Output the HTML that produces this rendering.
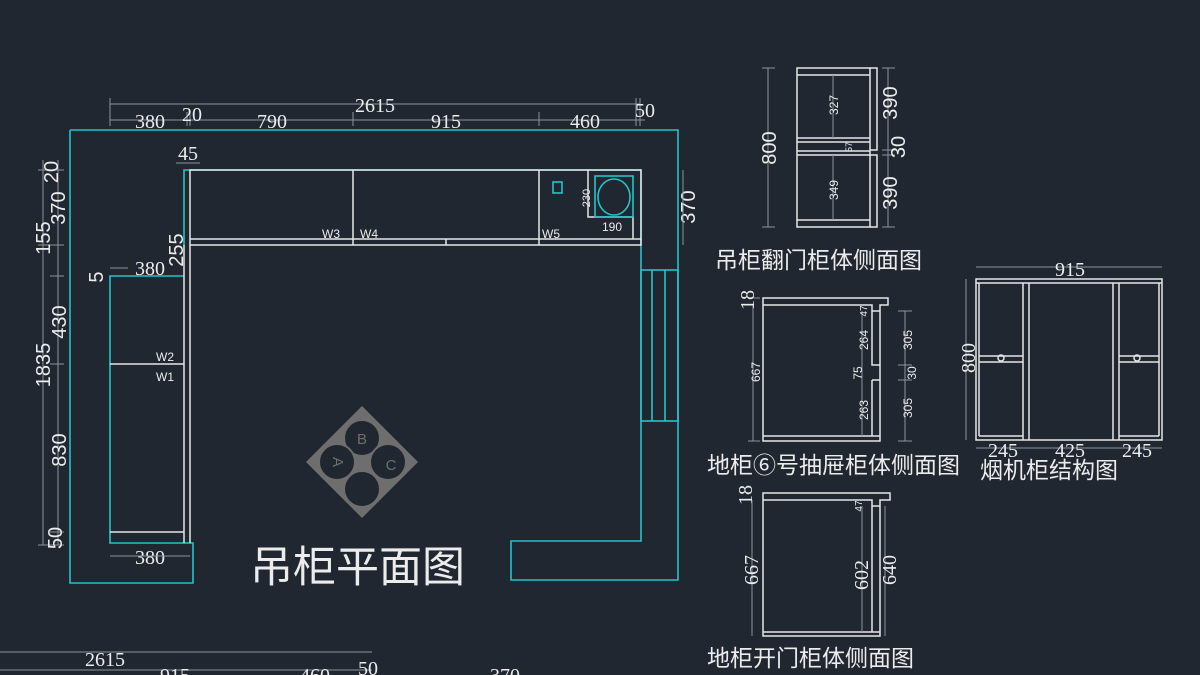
<!DOCTYPE html>
<html><head><meta charset="utf-8"><style>
html,body{margin:0;padding:0;background:#212730;}
svg{display:block}
text{font-family:"Liberation Sans","Noto Sans CJK SC",sans-serif;fill:#ececec}
.d{stroke:#8d939b;stroke-width:1;fill:none}
.w{stroke:#e6e6e6;stroke-width:1.5;fill:none}
.c{stroke:#22c4c8;stroke-width:1.6;fill:none}
.t{font-family:"Liberation Serif","Noto Serif CJK SC",serif;font-size:20px}
.s{font-size:12px}
.z{font-family:"Noto Sans CJK SC",sans-serif;font-size:23px}
</style></head><body>
<svg width="1200" height="675" viewBox="0 0 1200 675" xmlns="http://www.w3.org/2000/svg">
<rect width="1200" height="675" fill="#212730"/>
<path class="c" d="M70 130 H678 V580 H511 V541 H641 V170 H184 V245"/>
<path class="c" d="M70 130 V583 H193 V543 H110 V276 H184"/>
<rect class="w" x="190" y="170" width="451" height="75"/>
<line class="w" x1="190" y1="239" x2="641" y2="239"/>
<line class="w" x1="353" y1="170" x2="353" y2="245"/>
<line class="w" x1="539" y1="170" x2="539" y2="245"/>
<line class="w" x1="446" y1="239" x2="446" y2="245"/>
<path class="w" d="M588 170 V217 H633 V239"/>
<rect class="c" x="553" y="182" width="9" height="11"/>
<rect class="c" x="595" y="176" width="38" height="41"/>
<ellipse class="c" cx="614" cy="197" rx="16" ry="18"/>
<text x="322" y="238" class="s">W3</text><text x="360" y="238" class="s">W4</text><text x="542" y="238" class="s">W5</text>
<text x="590" y="198" style="font-size:11px" transform="rotate(-90 590 198)" text-anchor="middle">230</text>
<text x="612" y="231" style="font-size:12px" text-anchor="middle">190</text>
<line class="w" x1="184" y1="245" x2="184" y2="543"/>
<line class="w" x1="190" y1="245" x2="190" y2="543"/>
<line class="w" x1="110" y1="364" x2="184" y2="364"/>
<line class="w" x1="110" y1="532" x2="184" y2="532"/>
<text x="156" y="361" class="s">W2</text><text x="156" y="381" class="s">W1</text>
<rect class="c" x="641" y="270" width="37" height="151"/>
<line class="c" x1="652" y1="270" x2="652" y2="421"/>
<line class="c" x1="665" y1="270" x2="665" y2="421"/>
<line class="d" x1="110" y1="104" x2="640" y2="104"/>
<line class="d" x1="110" y1="120" x2="645" y2="120"/>
<path class="d" d="M110 98V126M187 112V126M190 112V126M353 112V126M539 112V126M636 98V126M640 98V126"/>
<text x="375" y="112" class="t" text-anchor="middle">2615</text>
<text x="150" y="128" class="t" text-anchor="middle">380</text>
<text x="192" y="121" class="t" text-anchor="middle">20</text>
<text x="272" y="128" class="t" text-anchor="middle">790</text>
<text x="446" y="128" class="t" text-anchor="middle">915</text>
<text x="585" y="128" class="t" text-anchor="middle">460</text>
<text x="645" y="117" class="t" text-anchor="middle">50</text>
<text x="188" y="160" class="t" text-anchor="middle">45</text>
<line class="d" x1="176" y1="163" x2="200" y2="163"/>
<line class="d" x1="43" y1="160" x2="43" y2="545"/>
<line class="d" x1="58" y1="160" x2="58" y2="545"/>
<path class="d" d="M38 170H64M38 245H64M50 276H64M50 364H64M50 532H64M38 545H64"/>
<g class="t">
<text transform="translate(58,172) rotate(-90)" text-anchor="middle">20</text>
<text transform="translate(65,208) rotate(-90)" text-anchor="middle">370</text>
<text transform="translate(50,238) rotate(-90)" text-anchor="middle">155</text>
<text transform="translate(66,322) rotate(-90)" text-anchor="middle">430</text>
<text transform="translate(50,365) rotate(-90)" text-anchor="middle">1835</text>
<text transform="translate(66,450) rotate(-90)" text-anchor="middle">830</text>
<text transform="translate(62,538) rotate(-90)" text-anchor="middle">50</text>
<text transform="translate(103,277) rotate(-90)" text-anchor="middle">5</text>
<text transform="translate(183,250) rotate(-90)" text-anchor="middle">255</text>
<text transform="translate(695,207) rotate(-90)" text-anchor="middle">370</text>
</g>
<line class="d" x1="683" y1="170" x2="683" y2="245"/>
<text x="150" y="275" class="t" text-anchor="middle">380</text>
<line class="d" x1="110" y1="268" x2="128" y2="268"/>
<text x="150" y="564" class="t" text-anchor="middle">380</text>
<line class="d" x1="110" y1="556" x2="190" y2="556"/>
<g fill="none" stroke="#6e6e6e" stroke-width="2">
<polygon points="362,406 418,462 362,518 306,462" fill="#6e6e6e" stroke="none"/>
<circle cx="362" cy="438" r="18" fill="#212730"/>
<circle cx="362" cy="489" r="18" fill="#212730"/>
<circle cx="337" cy="462" r="18" fill="#212730"/>
<circle cx="388" cy="462" r="18" fill="#212730"/>
</g>
<text x="362" y="444" font-size="15" text-anchor="middle" style="fill:#6e6e6e">B</text>
<text x="391" y="470" font-size="15" text-anchor="middle" style="fill:#6e6e6e">C</text>
<text transform="translate(333,462) rotate(90)" font-size="15" text-anchor="middle" style="fill:#6e6e6e">A</text>
<text x="250" y="582" style="font-family:'Noto Sans CJK SC',sans-serif;font-size:43px">吊柜平面图</text>
<line class="d" x1="0" y1="652" x2="372" y2="652"/>
<line class="d" x1="0" y1="670" x2="372" y2="670"/>
<text x="105" y="666" class="t" text-anchor="middle">2615</text>
<text x="175" y="682" class="t" text-anchor="middle">915</text>
<text x="315" y="682" class="t" text-anchor="middle">460</text>
<text x="368" y="675" class="t" text-anchor="middle">50</text>
<text x="505" y="682" class="t" text-anchor="middle">370</text>
<rect class="w" x="797" y="68" width="73" height="159"/>
<path class="w" d="M870 68H877V150H870M870 155H877V227H870"/>
<path class="w" d="M797 75H870M797 138H870M797 142H870M797 151H870M797 155H870M797 220H870"/>
<line class="d" x1="768" y1="68" x2="768" y2="227"/><path class="d" d="M762 68H775M762 227H775"/>
<line class="d" x1="888" y1="68" x2="888" y2="227"/><path class="d" d="M882 68H895M882 227H895M882 150H895M882 155H895"/>
<line class="d" x1="833" y1="75" x2="833" y2="138"/><line class="d" x1="833" y1="155" x2="833" y2="220"/>
<g class="t">
<text transform="translate(776,148) rotate(-90)" text-anchor="middle">800</text>
<text transform="translate(897,103) rotate(-90)" text-anchor="middle">390</text>
<text transform="translate(905,147) rotate(-90)" text-anchor="middle">30</text>
<text transform="translate(897,193) rotate(-90)" text-anchor="middle">390</text>
</g>
<text transform="translate(838,105) rotate(-90)" class="s" text-anchor="middle">327</text>
<text transform="translate(838,190) rotate(-90)" class="s" text-anchor="middle">349</text>
<text transform="translate(852,147) rotate(-90)" font-size="9" text-anchor="middle">57</text>
<text x="715" y="268" class="z">吊柜翻门柜体侧面图</text>
<path class="w" d="M763 298H888V305H880V441H763Z"/>
<path class="w" d="M763 305H872V311H880M763 436H880M872 311V365H880M872 380V436M872 380H880"/>
<line class="d" x1="753" y1="305" x2="753" y2="441"/><path class="d" d="M748 298H760M748 441H760"/>
<line class="d" x1="905" y1="311" x2="905" y2="441"/><path class="d" d="M898 311H912M898 365H912M898 380H912M898 441H912"/>
<line class="d" x1="862" y1="311" x2="862" y2="436"/>
<text transform="translate(754,300) rotate(-90)" class="t" text-anchor="middle">18</text>
<g class="s">
<text transform="translate(760,372) rotate(-90)" text-anchor="middle">667</text>
<text transform="translate(867,311) rotate(-90)" text-anchor="middle" font-size="10">47</text>
<text transform="translate(868,340) rotate(-90)" text-anchor="middle">264</text>
<text transform="translate(862,373) rotate(-90)" text-anchor="middle">75</text>
<text transform="translate(868,410) rotate(-90)" text-anchor="middle">263</text>
<text transform="translate(912,340) rotate(-90)" text-anchor="middle">305</text>
<text transform="translate(916,373) rotate(-90)" text-anchor="middle">30</text>
<text transform="translate(912,408) rotate(-90)" text-anchor="middle">305</text>
</g>
<text x="707" y="473" class="z">地柜⑥号抽屉柜体侧面图</text>
<rect class="w" x="976" y="279" width="186" height="161"/>
<path class="w" d="M976 283H1162M979 283V436M1023 283V440M1029 283V440M1113 283V440M1119 283V440M1159 283V436M979 436H1023M1119 436H1159M979 356H1023M979 362H1023M1119 356H1159M1119 362H1159"/>
<circle class="w" cx="1001" cy="358" r="3"/><circle class="w" cx="1137" cy="358" r="3"/>
<line class="d" x1="976" y1="267" x2="1162" y2="267"/>
<line class="d" x1="976" y1="448" x2="1162" y2="448"/>
<line class="d" x1="966" y1="279" x2="966" y2="440"/>
<text x="1070" y="276" class="t" text-anchor="middle">915</text>
<text transform="translate(975,358) rotate(-90)" class="t" text-anchor="middle">800</text>
<text x="1003" y="457" class="t" text-anchor="middle">245</text>
<text x="1070" y="457" class="t" text-anchor="middle">425</text>
<text x="1137" y="457" class="t" text-anchor="middle">245</text>
<text x="980" y="478" class="z">烟机柜结构图</text>
<path class="w" d="M763 493H890V500H880V636H763Z"/>
<path class="w" d="M763 500H872V506H880M872 506V632M763 632H880"/>
<line class="d" x1="752" y1="500" x2="752" y2="636"/>
<line class="d" x1="862" y1="506" x2="862" y2="632"/>
<line class="d" x1="885" y1="506" x2="885" y2="636"/>
<text transform="translate(752,495) rotate(-90)" class="t" text-anchor="middle">18</text>
<text transform="translate(758,570) rotate(-90)" class="t" text-anchor="middle">667</text>
<text transform="translate(862,506) rotate(-90)" font-size="10" text-anchor="middle">47</text>
<text transform="translate(868,575) rotate(-90)" class="t" text-anchor="middle">602</text>
<text transform="translate(896,570) rotate(-90)" class="t" text-anchor="middle">640</text>
<text x="707" y="666" class="z">地柜开门柜体侧面图</text>
</svg>
</body></html>
